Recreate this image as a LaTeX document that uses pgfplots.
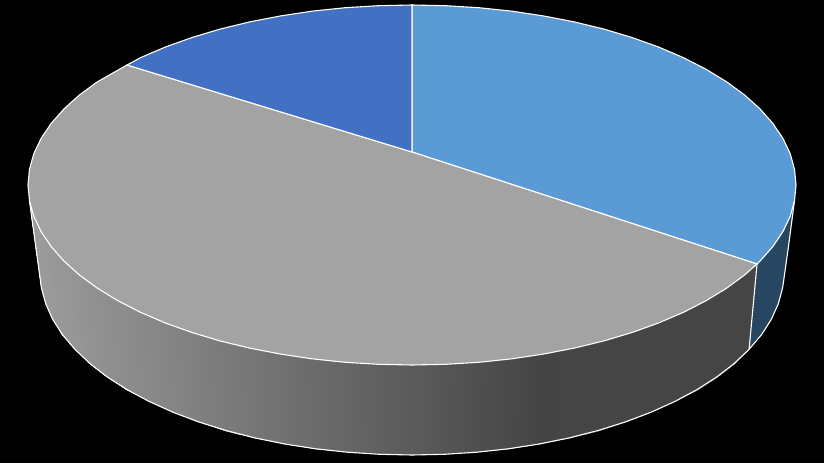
\documentclass[border=0pt]{standalone}
\usepackage{pgfplots}
\pgfplotsset{compat=1.18}
\definecolor{sliceA}{HTML}{5B9BD5}
\definecolor{sliceB}{HTML}{A3A3A3}
\definecolor{sliceC}{HTML}{4270C2}
\definecolor{sideA}{HTML}{264661}
% all coordinates are read off the picture, in its pixels
\begin{document}
\begin{tikzpicture}
\begin{axis}[
    width=824pt, height=463pt, scale only axis,
    xmin=0, xmax=824, ymin=0, ymax=463,
    y dir=reverse,
    ticks=none,
    axis line style={draw=none},
    axis background/.style={fill=black},
    colormap/blackwhite,
    point meta min=0, point meta max=255,
]
% side of the grey slice
\addplot[surf, shader=interp, mesh/rows=2, mesh/cols=31, point meta=explicit] table[meta=c] {
x y c
29.5 200.7 156
33.8 216.3 155
41.1 231.6 154
51.2 246.6 152
64 261.1 150
79.4 275 147
97.4 288.2 144
117.9 300.7 141
140.5 312.3 137
165.2 322.9 133
191.7 332.4 128
220 340.9 123
249.7 348.1 118
280.7 354.1 113
312.6 358.9 107
345.3 362.3 102
378.5 364.3 96
412 365 91
445.5 364.3 85
478.7 362.3 79
511.4 358.9 74
543.3 354.1 68
574.3 348.1 69
604 340.9 69
632.3 332.4 69
658.8 322.9 69
683.5 312.3 69
706.1 300.7 69
726.6 288.2 69
744.6 275 69
757 264 69
41.4 287.9 156
45.7 303.8 155
52.7 319.4 154
62.4 334.6 152
74.9 349.3 150
89.8 363.5 147
107.3 377 144
127 389.6 141
149 401.4 137
172.9 412.2 133
198.6 421.9 128
226 430.5 123
254.8 437.9 118
284.8 444 113
315.7 448.8 107
347.4 452.2 102
379.6 454.3 96
412 455 91
444.4 454.3 85
476.6 452.2 79
508.3 448.8 74
539.2 444 68
569.2 437.9 69
598 430.5 69
625.4 421.9 69
651.1 412.2 69
675 401.4 69
697 389.6 69
716.7 377 69
734.2 363.5 69
749.1 349.3 69
};
% side of the light blue slice
\addplot[fill=sideA, draw=none] coordinates {
(794.5,200.7) (790.2,216.3) (782.9,231.6) (772.8,246.6) (757,264)
(749.1,349.3) (761.6,334.6) (771.3,319.4) (778.3,303.8) (782.6,287.9)
(788,250)
} -- cycle;
% outer edge, bottom
\addplot[white, line width=1.1pt] coordinates {
(29.5,200.7) (35.8,247) (39.4,273) (41.4,287.9) (45.7,303.8) (52.7,319.4) (62.4,334.6)
(74.9,349.3) (89.8,363.5) (107.3,377) (127,389.6) (149,401.4) (172.9,412.2)
(198.6,421.9) (226,430.5) (254.8,437.9) (284.8,444) (315.7,448.8) (347.4,452.2)
(379.6,454.3) (412,455) (444.4,454.3) (476.6,452.2) (508.3,448.8) (539.2,444)
(569.2,437.9) (598,430.5) (625.4,421.9) (651.1,412.2) (675,401.4) (697,389.6)
(716.7,377) (734.2,363.5) (749.1,349.3) (761.6,334.6) (771.3,319.4) (778.3,303.8)
(782.6,287.9) (788,250) (794.5,200.7)
};
% slice edge on the side
\addplot[white, line width=1.1pt] coordinates {(757,264) (749.1,349.3)};
% top face: light blue slice
\addplot[fill=sliceA, draw=white, line width=1.1pt] coordinates {
(412,152) (412,5) (445.5,5.7) (478.7,7.7) (511.4,11.1) (543.3,15.9) (574.3,21.9)
(604,29.1) (632.3,37.6) (658.8,47.1) (683.5,57.7) (706.1,69.3) (726.6,81.8)
(744.6,95) (760,108.9) (772.8,123.4) (782.9,138.4) (790.2,153.7) (794.5,169.3)
(796,185) (794.5,200.7) (790.2,216.3) (782.9,231.6) (772.8,246.6) (760,261.1)
(757,264) (412,152)
};
% top face: grey slice
\addplot[fill=sliceB, draw=white, line width=1.1pt] coordinates {
(412,152) (757,264) (744.6,275) (726.6,288.2) (706.1,300.7) (683.5,312.3)
(658.8,322.9) (632.3,332.4) (604,340.9) (574.3,348.1) (543.3,354.1) (511.4,358.9)
(478.7,362.3) (445.5,364.3) (412,365) (378.5,364.3) (345.3,362.3) (312.6,358.9)
(280.7,354.1) (249.7,348.1) (220,340.9) (191.7,332.4) (165.2,322.9) (140.5,312.3)
(117.9,300.7) (97.4,288.2) (79.4,275) (64,261.1) (51.2,246.6) (41.1,231.6)
(33.8,216.3) (29.5,200.7) (28,185) (29.5,169.3) (33.8,153.7) (41.1,138.4)
(51.2,123.4) (64,108.9) (79.4,95) (97.4,81.8) (127,65) (412,152)
};
% top face: dark blue slice
\addplot[fill=sliceC, draw=white, line width=1.1pt] coordinates {
(412,152) (127,65) (140.5,57.7) (165.2,47.1) (191.7,37.6) (220,29.1) (249.7,21.9)
(280.7,15.9) (312.6,11.1) (345.3,7.7) (378.5,5.7) (412,5) (412,152)
};
\end{axis}
\end{tikzpicture}
\end{document}
